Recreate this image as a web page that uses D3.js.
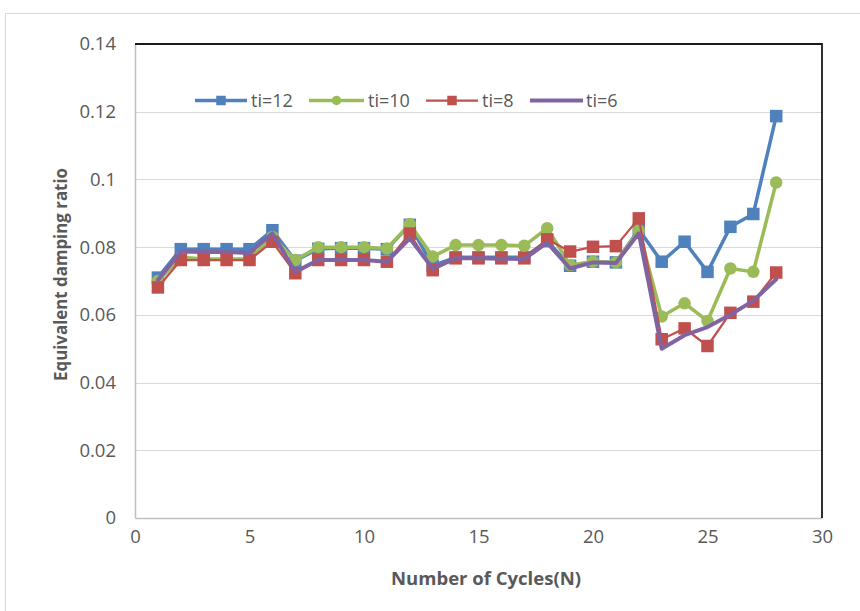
<!DOCTYPE html>
<html>
<head>
<meta charset="utf-8">
<script src="https://cdn.jsdelivr.net/npm/d3@7/dist/d3.min.js"></script>
<style>
  html, body { margin: 0; padding: 0; background: #fff; }
  svg { display: block; }
</style>
</head>
<body>
<svg id="chart" width="860" height="611"></svg>
<script>
// Cycle numbers 1..28
const cycles = [1,2,3,4,5,6,7,8,9,10,11,12,13,14,15,16,17,18,19,20,21,22,23,24,25,26,27,28];

// Equivalent damping ratio per cycle for each ti value
const ti12 = [0.0710,0.0794,0.0794,0.0794,0.0794,0.0850,0.0760,0.0795,0.0797,0.0797,0.0794,0.0866,0.0745,0.0770,
              0.0770,0.0770,0.0770,0.0818,0.0745,0.0757,0.0755,0.0852,0.0757,0.0816,0.0727,0.0860,0.0898,0.1187];
const ti10 = [0.0700,0.0770,0.0765,0.0765,0.0765,0.0830,0.0762,0.0800,0.0800,0.0800,0.0796,0.0868,0.0772,0.0806,
              0.0806,0.0806,0.0804,0.0856,0.0747,0.0757,0.0755,0.0849,0.0595,0.0634,0.0582,0.0737,0.0727,0.0991];
const ti8  = [0.0681,0.0762,0.0762,0.0762,0.0762,0.0816,0.0723,0.0762,0.0762,0.0762,0.0757,0.0840,0.0732,0.0767,
              0.0767,0.0767,0.0767,0.0823,0.0787,0.0801,0.0803,0.0885,0.0528,0.0560,0.0508,0.0606,0.0639,0.0725];
const ti6  = [0.0703,0.0787,0.0786,0.0786,0.0783,0.0841,0.0727,0.0762,0.0762,0.0762,0.0757,0.0826,0.0737,0.0767,
              0.0767,0.0766,0.0765,0.0813,0.0737,0.0755,0.0753,0.0841,0.0500,0.0540,0.0564,0.0600,0.0642,0.0705];

const seriesNames = ["ti=12", "ti=10", "ti=8", "ti=6"];
const xTicks = [0, 5, 10, 15, 20, 25, 30];
const yTicks = [0, 0.02, 0.04, 0.06, 0.08, 0.1, 0.12, 0.14];
const xTitle = "Number of Cycles(N)";
const yTitle = "Equivalent damping ratio";

const series = [
  { name: seriesNames[0], values: ti12, color: "#4F81BD", width: 3.5, marker: "square", size: 12.5 },
  { name: seriesNames[1], values: ti10, color: "#9BBB59", width: 3.5, marker: "circle", size: 12.5 },
  { name: seriesNames[2], values: ti8,  color: "#C0504D", width: 2.25, marker: "square", size: 12.5 },
  { name: seriesNames[3], values: ti6,  color: "#8064A2", width: 4,   marker: "none",   size: 0 }
];

const svg = d3.select("#chart");
const plot = { left: 135, right: 822, top: 44, bottom: 518 };

const x = d3.scaleLinear().domain([0, 30]).range([plot.left, plot.right]);
const y = d3.scaleLinear().domain([0, 0.14]).range([plot.bottom, plot.top]);

const textColor = "#595959";
const tickFont = "'Open Sans', 'Liberation Sans', sans-serif";

// Outer chart border
svg.append("path")
  .attr("d", "M5.5,611 L5.5,13.5 L860,13.5")
  .attr("fill", "none")
  .attr("stroke", "#d9d9d9")
  .attr("stroke-width", 1);

// Horizontal gridlines
svg.append("g")
  .selectAll("line")
  .data(yTicks.filter(t => t > 0 && t < 0.14))
  .join("line")
  .attr("x1", plot.left).attr("x2", plot.right)
  .attr("y1", d => Math.round(y(d)) + 0.5).attr("y2", d => Math.round(y(d)) + 0.5)
  .attr("stroke", "#d9d9d9")
  .attr("stroke-width", 1);

// Y axis
const yAxis = svg.append("g")
  .attr("transform", `translate(${plot.left},0)`)
  .call(d3.axisLeft(y).tickValues(yTicks).tickFormat(d => String(d)).tickSize(0).tickPadding(19));
yAxis.select(".domain").attr("stroke", "#bfbfbf").attr("stroke-width", 1.5);
yAxis.selectAll("text")
  .attr("fill", textColor)
  .style("font-family", tickFont)
  .style("font-size", "18.5px");

// X axis
const xAxis = svg.append("g")
  .attr("transform", `translate(0,${plot.bottom})`)
  .call(d3.axisBottom(x).tickValues(xTicks).tickFormat(d => String(d)).tickSize(0).tickPadding(12));
xAxis.select(".domain").attr("stroke", "#bfbfbf").attr("stroke-width", 1.5);
xAxis.selectAll("text")
  .attr("fill", textColor)
  .style("font-family", tickFont)
  .style("font-size", "18.5px");

// Dark frame on top and right of plot area
svg.append("path")
  .attr("d", `M${plot.left},${plot.top} L${plot.right},${plot.top} L${plot.right},${plot.bottom}`)
  .attr("fill", "none")
  .attr("stroke", "#1a1a1a")
  .attr("stroke-width", 1.8);

// Axis titles, sized so each spans its intended length
function fitText(sel, width) {
  const w = sel.node().getComputedTextLength();
  const fs = parseFloat(sel.style("font-size"));
  sel.style("font-size", (fs * width / w).toFixed(2) + "px");
}

const xt = svg.append("text")
  .attr("x", 486).attr("y", 585)
  .attr("text-anchor", "middle")
  .attr("fill", textColor)
  .style("font-family", tickFont)
  .style("font-weight", "bold")
  .style("font-size", "16px")
  .text(xTitle);
fitText(xt, 190);

const yt = svg.append("text")
  .attr("transform", `translate(67,274.5) rotate(-90)`)
  .attr("text-anchor", "middle")
  .attr("fill", textColor)
  .style("font-family", tickFont)
  .style("font-weight", "bold")
  .style("font-size", "16px")
  .text(yTitle);
fitText(yt, 213);

// Series lines and markers
const line = d3.line()
  .x((d, i) => x(cycles[i]))
  .y(d => y(d));

function drawMarker(g, type, cx, cy, size, color) {
  if (type === "square") {
    g.append("rect")
      .attr("x", cx - size / 2).attr("y", cy - size / 2)
      .attr("width", size).attr("height", size)
      .attr("fill", color);
  } else if (type === "circle") {
    g.append("circle")
      .attr("cx", cx).attr("cy", cy).attr("r", size / 2)
      .attr("fill", color);
  }
}

series.forEach(s => {
  const g = svg.append("g");
  g.append("path")
    .datum(s.values)
    .attr("d", line)
    .attr("fill", "none")
    .attr("stroke", s.color)
    .attr("stroke-width", s.width)
    .attr("stroke-linejoin", "round")
    .attr("stroke-linecap", "round");
  s.values.forEach((v, i) => drawMarker(g, s.marker, x(cycles[i]), y(v), s.size, s.color));
});

// Legend
const legendItems = [
  { x0: 195, x1: 247, tx: 251 },
  { x0: 309, x1: 364, tx: 368 },
  { x0: 426, x1: 478, tx: 482 },
  { x0: 530, x1: 583, tx: 586 }
];
const ly = 100.5;
const legend = svg.append("g");
series.forEach((s, i) => {
  const it = legendItems[i];
  legend.append("line")
    .attr("x1", it.x0).attr("x2", it.x1)
    .attr("y1", ly).attr("y2", ly)
    .attr("stroke", s.color)
    .attr("stroke-width", s.width);
  drawMarker(legend, s.marker, (it.x0 + it.x1) / 2, ly, 9.5, s.color);
  legend.append("text")
    .attr("x", it.tx).attr("y", ly)
    .attr("dy", "0.35em")
    .attr("fill", textColor)
    .style("font-family", tickFont)
    .style("font-size", "18px")
    .text(s.name);
});
</script>
</body>
</html>
